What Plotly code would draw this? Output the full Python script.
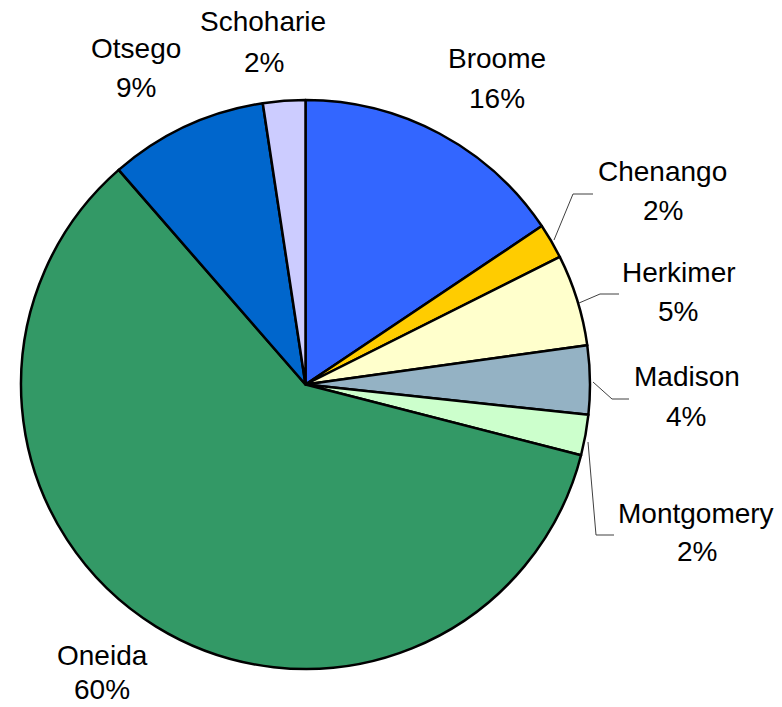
import plotly.graph_objects as go

# ---- data ----
counties = ["Broome", "Chenango", "Herkimer", "Madison", "Montgomery", "Oneida", "Otsego", "Schoharie"]
shares = [15.6, 2.0, 5.2, 3.9, 2.3, 59.6, 9.0, 2.4]
colors = ["#3366FF", "#FFCC00", "#FFFFCC", "#94B2C4", "#CCFFCC", "#339966", "#0066CC", "#CCCCFF"]

W, H = 782, 707
FONT = "Liberation Sans, Arial, sans-serif"
FS = 28

# label placement (pixel centres of name line and percent line)
label_pos = {
    "Broome":     (497, 59, 497, 98),
    "Chenango":   (662, 172, 663, 211),
    "Herkimer":   (679, 272, 678, 311),
    "Madison":    (687, 376, 686, 416),
    "Montgomery": (696, 513, 697, 551),
    "Oneida":     (102, 655, 102, 689),
    "Otsego":     (136, 48, 136, 88),
    "Schoharie":  (263, 22, 264, 62),
}
leaders = [
    [(554, 240), (573, 194), (593, 194)],
    [(579, 303), (600, 294), (619, 294)],
    [(593, 382), (612, 399), (629, 399)],
    [(588, 442), (596, 535), (614, 535)],
]

cx, cy, r = 305.5, 384.5, 284.5

fig = go.Figure(go.Pie(
    labels=counties,
    values=shares,
    sort=False,
    direction="clockwise",
    rotation=0,
    marker=dict(colors=colors, line=dict(color="black", width=2.5)),
    textinfo="none",
    hoverinfo="label+percent",
    domain=dict(x=[(cx - r) / W, (cx + r) / W], y=[(H - cy - r) / H, (H - cy + r) / H]),
    showlegend=False,
))

total = sum(shares)
annotations = []
for name, val in zip(counties, shares):
    nx, ny, px, py = label_pos[name]
    pct = f"{round(val / total * 100):.0f}%"
    annotations.append(dict(x=nx / W, y=1 - ny / H, xref="paper", yref="paper", text=name,
                            showarrow=False, xanchor="center", yanchor="middle",
                            font=dict(family=FONT, size=FS, color="black")))
    annotations.append(dict(x=px / W, y=1 - py / H, xref="paper", yref="paper", text=pct,
                            showarrow=False, xanchor="center", yanchor="middle",
                            borderpad=0,
                            font=dict(family=FONT, size=FS, color="black")))

shapes = []
for pts in leaders:
    path = "M " + " L ".join(f"{x / W},{1 - y / H}" for x, y in pts)
    shapes.append(dict(type="path", xref="paper", yref="paper", path=path,
                       line=dict(color="#404040", width=1)))

fig.update_layout(
    width=W, height=H,
    margin=dict(l=0, r=0, t=0, b=0),
    paper_bgcolor="white",
    plot_bgcolor="white",
    annotations=annotations,
    shapes=shapes,
)

fig.write_html("out.html", config={"displayModeBar": False},
               post_script="document.body.style.margin='0';document.body.style.overflow='hidden';")
